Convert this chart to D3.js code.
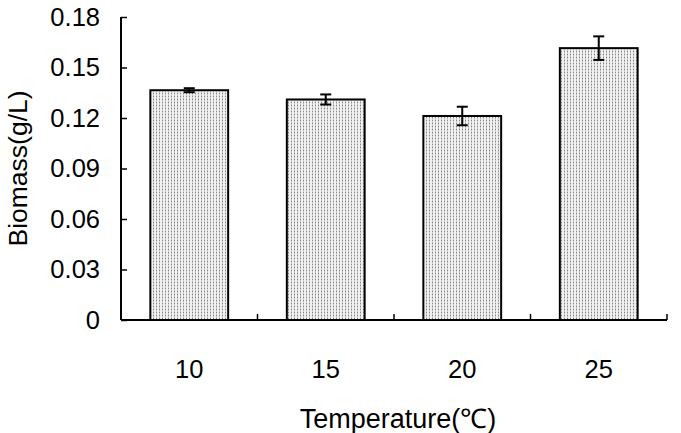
<!DOCTYPE html>
<html>
<head>
<meta charset="utf-8">
<script src="https://cdn.jsdelivr.net/npm/d3@7/dist/d3.min.js"></script>
<style>
  html, body { margin: 0; padding: 0; background: #fff; }
  svg { display: block; }
  text { font-family: "Liberation Sans", Arial, sans-serif; fill: #000; }
</style>
</head>
<body>
<svg id="chart" width="681" height="433"></svg>
<script>
// ---- data ----
const categories = ["10", "15", "20", "25"];
const biomass = [0.1365, 0.131, 0.1212, 0.1615];
const errors = [0.0012, 0.003, 0.0055, 0.007];
const yTicks = [0, 0.03, 0.06, 0.09, 0.12, 0.15, 0.18];
const xTitle = "Temperature(\u2103)";
const yTitle = "Biomass(g/L)";

// ---- layout ----
const svg = d3.select("#chart");
const mLeft = 121, mRight = 667, mTop = 17, mBottom = 320;

const x = d3.scaleBand().domain(categories).range([mLeft, mRight]).padding(0);
const y = d3.scaleLinear().domain([0, 0.18]).range([mBottom, mTop]);
const barFrac = 0.57;

// pattern fill
const defs = svg.append("defs");
const pat = defs.append("pattern")
  .attr("id", "dots").attr("patternUnits", "userSpaceOnUse")
  .attr("width", 3).attr("height", 3);
pat.append("rect").attr("width", 3).attr("height", 3).attr("fill", "#f0f0f0");
pat.append("rect").attr("x", 0).attr("y", 0).attr("width", 1).attr("height", 1).attr("fill", "#858585");
pat.append("rect").attr("x", 0).attr("y", 1.5).attr("width", 1).attr("height", 1).attr("fill", "#a0a0a0");

// bars
const bw = x.bandwidth() * barFrac;
svg.append("g").selectAll("rect").data(categories).join("rect")
  .attr("x", (d) => x(d) + (x.bandwidth() - bw) / 2)
  .attr("y", (d, i) => y(biomass[i]))
  .attr("width", bw)
  .attr("height", (d, i) => y(0) - y(biomass[i]))
  .attr("fill", "url(#dots)")
  .attr("stroke", "#000").attr("stroke-width", 2);

// error bars
const eg = svg.append("g").attr("stroke", "#000").attr("stroke-width", 2);
categories.forEach((c, i) => {
  const cx = x(c) + x.bandwidth() / 2;
  const y1 = y(biomass[i] + errors[i]), y2 = y(biomass[i] - errors[i]);
  eg.append("line").attr("x1", cx).attr("x2", cx).attr("y1", y1).attr("y2", y2);
  eg.append("line").attr("x1", cx - 5.5).attr("x2", cx + 5.5).attr("y1", y1).attr("y2", y1);
  eg.append("line").attr("x1", cx - 5.5).attr("x2", cx + 5.5).attr("y1", y2).attr("y2", y2);
});

// y axis
const yAxis = d3.axisLeft(y).tickValues(yTicks).tickSize(-6).tickPadding(21)
  .tickFormat((d) => d === 0 ? "0" : d.toFixed(2));
const gy = svg.append("g").attr("transform", `translate(${mLeft},0)`).call(yAxis);
gy.select(".domain").remove();
gy.selectAll(".tick line").attr("stroke", "#000").attr("stroke-width", 1.5);
gy.selectAll(".tick text").attr("font-size", 25.5).attr("font-family", "Liberation Sans, Arial, sans-serif").attr("fill", "#000");
svg.append("line").attr("x1", mLeft).attr("x2", mLeft).attr("y1", y(0.18)).attr("y2", mBottom)
  .attr("stroke", "#000").attr("stroke-width", 2);

// x axis
const xAxis = d3.axisBottom(x).tickSize(0).tickPadding(40);
const gx = svg.append("g").attr("transform", `translate(0,${mBottom})`).call(xAxis);
gx.select(".domain").remove();
gx.selectAll(".tick text").attr("font-size", 25.5).attr("font-family", "Liberation Sans, Arial, sans-serif").attr("fill", "#000");
svg.append("line").attr("x1", mLeft).attr("x2", mRight).attr("y1", mBottom).attr("y2", mBottom)
  .attr("stroke", "#000").attr("stroke-width", 2);
// boundary ticks
const bounds = categories.slice(1).map((c) => x(c)).concat([mRight]);
svg.append("g").selectAll("line").data(bounds).join("line")
  .attr("x1", (d) => d).attr("x2", (d) => d)
  .attr("y1", mBottom).attr("y2", mBottom - 6)
  .attr("stroke", "#000").attr("stroke-width", 1.5);

// titles
svg.append("text").attr("x", 398).attr("y", 428)
  .attr("text-anchor", "middle").attr("font-size", 27).text(xTitle);
svg.append("text").attr("transform", `translate(27,${(mTop + mBottom) / 2}) rotate(-90)`)
  .attr("text-anchor", "middle").attr("font-size", 26.5).text(yTitle);
</script>
</body>
</html>
